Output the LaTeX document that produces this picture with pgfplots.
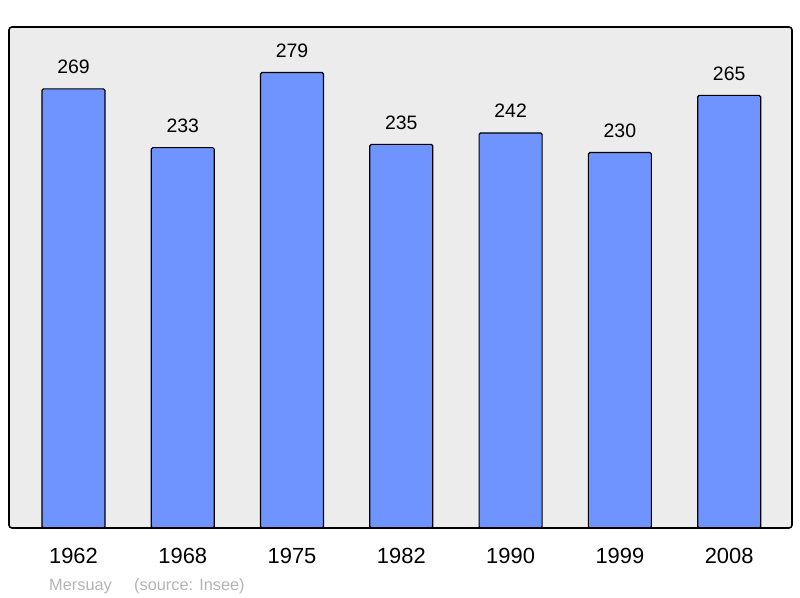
\documentclass[border=0pt]{standalone}
\usepackage{pgfplots}
\pgfplotsset{compat=1.18}
\usepackage{fontspec}
\setmainfont{Liberation Sans}
\definecolor{barblue}{HTML}{7094FF}
\definecolor{bggray}{HTML}{ECECEC}
\definecolor{footgray}{HTML}{B4B4B4}
\begin{document}
\begin{tikzpicture}
\path[use as bounding box] (0,0) rectangle (800bp,598bp);
\begin{axis}[
  at={(9bp,70bp)}, anchor=south west,
  scale only axis, width=783bp, height=501bp,
  xmin=-0.59, xmax=6.575, ymin=0, ymax=306.9,
  axis line style={draw=none},
  axis background/.style={fill=bggray},
  ytick=\empty,
  xtick={0,1,2,3,4,5,6},
  xticklabels={1962,1968,1975,1982,1990,1999,2008},
  major tick length=0pt,
  xticklabel style={font=\fontsize{22}{22}\selectfont, anchor=base, yshift=-36bp},
  /pgf/number format/assume math mode=true,
  ybar, bar width=63bp, bar shift=0pt,
  nodes near coords,
  every node near coord/.append style={font=\fontsize{19.5}{19.5}\selectfont, anchor=base, yshift=15bp, text=black},
  clip=false,
]
\addplot[fill=barblue, draw=black, line width=1.2bp, rounded corners=1.5bp] coordinates {
(0,269) (1,233) (2,279) (3,235) (4,242) (5,230) (6,265)};
\draw[line width=1.6bp, rounded corners=3bp] (rel axis cs:0,0) rectangle (rel axis cs:1,1);
\end{axis}
\node[anchor=base west, inner sep=0pt, text=footgray, font=\fontsize{16.4}{16.4}\selectfont] at (49bp,8bp) {Mersuay};
\node[anchor=base west, inner sep=0pt, text=footgray, font=\fontsize{16.4}{16.4}\selectfont] at (134bp,8bp) {(source: Insee)};
\end{tikzpicture}
\end{document}
